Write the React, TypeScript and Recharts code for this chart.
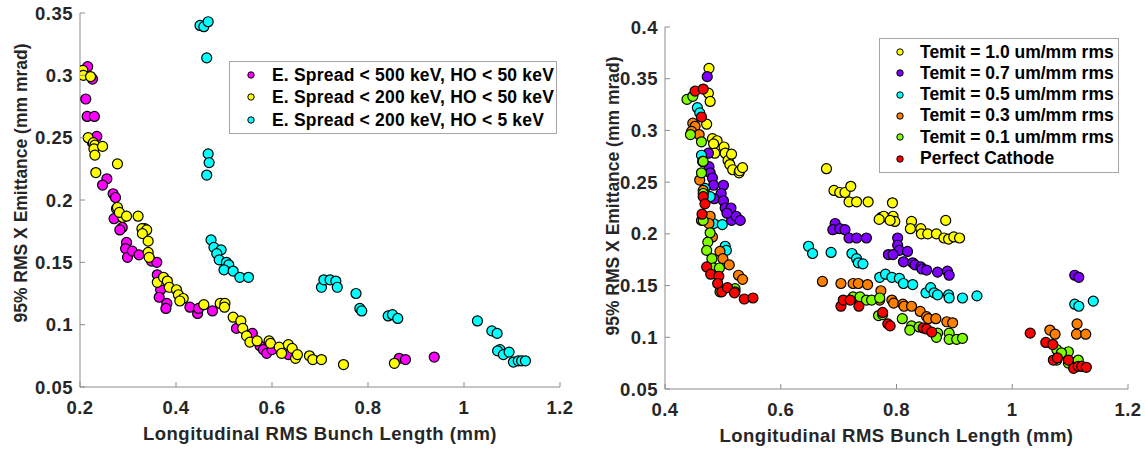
import React from 'react';
import { ScatterChart, Scatter, XAxis, YAxis, Legend, Label } from 'recharts';

// left panel: energy spread / higher-order cuts
const spread500ho50: [number, number][] = [
  [0.216, 0.307], [0.212, 0.281], [0.215, 0.267], [0.23, 0.267], [0.235, 0.251], [0.226, 0.246],
  [0.226, 0.297], [0.256, 0.217], [0.247, 0.212], [0.269, 0.205], [0.274, 0.202], [0.271, 0.185],
  [0.288, 0.178], [0.283, 0.176], [0.297, 0.166], [0.295, 0.161], [0.299, 0.154], [0.309, 0.159],
  [0.323, 0.156], [0.349, 0.151], [0.36, 0.15], [0.361, 0.14], [0.368, 0.128], [0.365, 0.122],
  [0.381, 0.117], [0.379, 0.113], [0.429, 0.114], [0.445, 0.109], [0.447, 0.113], [0.476, 0.111],
  [0.526, 0.097], [0.559, 0.093], [0.575, 0.083], [0.582, 0.08], [0.589, 0.077], [0.6, 0.08],
  [0.634, 0.076], [0.865, 0.073], [0.878, 0.072], [0.938, 0.074],
];
const spread200ho50: [number, number][] = [
  [0.206, 0.304], [0.207, 0.3], [0.222, 0.299], [0.217, 0.25], [0.228, 0.246], [0.231, 0.244],
  [0.229, 0.241], [0.231, 0.236], [0.247, 0.243], [0.233, 0.222], [0.278, 0.229], [0.276, 0.193],
  [0.289, 0.186], [0.321, 0.187], [0.335, 0.177], [0.278, 0.194], [0.282, 0.19], [0.297, 0.187],
  [0.329, 0.177], [0.339, 0.176], [0.33, 0.173], [0.342, 0.167], [0.342, 0.158], [0.344, 0.154],
  [0.361, 0.134], [0.374, 0.138], [0.382, 0.135], [0.386, 0.13], [0.401, 0.128], [0.405, 0.124],
  [0.415, 0.121], [0.408, 0.119], [0.458, 0.116], [0.492, 0.117], [0.502, 0.117], [0.501, 0.114],
  [0.519, 0.106], [0.535, 0.103], [0.539, 0.097], [0.547, 0.091], [0.554, 0.086], [0.569, 0.087],
  [0.594, 0.087], [0.597, 0.085], [0.615, 0.082], [0.62, 0.077], [0.634, 0.084], [0.642, 0.081],
  [0.649, 0.073], [0.653, 0.076], [0.678, 0.075], [0.685, 0.072], [0.703, 0.072], [0.749, 0.068],
  [0.855, 0.069],
];
const spread200ho5: [number, number][] = [
  [0.45, 0.34], [0.458, 0.339], [0.467, 0.343], [0.464, 0.314], [0.467, 0.237], [0.469, 0.23],
  [0.464, 0.22], [0.473, 0.168], [0.479, 0.162], [0.494, 0.16], [0.485, 0.157], [0.49, 0.152],
  [0.505, 0.15], [0.51, 0.148], [0.5, 0.144], [0.519, 0.143], [0.533, 0.138], [0.551, 0.138],
  [0.703, 0.13], [0.708, 0.136], [0.721, 0.136], [0.733, 0.135], [0.736, 0.13], [0.775, 0.125],
  [0.783, 0.113], [0.787, 0.111], [0.842, 0.107], [0.851, 0.108], [0.862, 0.105], [1.028, 0.103],
  [1.058, 0.095], [1.069, 0.093], [1.075, 0.08], [1.07, 0.079], [1.082, 0.076], [1.094, 0.078],
  [1.103, 0.07], [1.113, 0.071], [1.12, 0.071], [1.128, 0.071],
];

// right panel: thermal emittance
const temit10: [number, number][] = [
  [0.476, 0.36], [0.475, 0.336], [0.478, 0.328], [0.472, 0.306], [0.482, 0.292], [0.49, 0.29],
  [0.484, 0.287], [0.486, 0.278], [0.502, 0.284], [0.504, 0.278], [0.509, 0.271], [0.515, 0.277],
  [0.512, 0.267], [0.517, 0.262], [0.528, 0.259], [0.529, 0.261], [0.534, 0.264], [0.679, 0.263],
  [0.692, 0.242], [0.702, 0.24], [0.711, 0.24], [0.721, 0.246], [0.718, 0.231], [0.731, 0.231],
  [0.751, 0.231], [0.793, 0.23], [0.774, 0.216], [0.778, 0.217], [0.77, 0.214], [0.794, 0.217],
  [0.797, 0.212], [0.789, 0.213], [0.826, 0.212], [0.824, 0.205], [0.842, 0.205], [0.843, 0.2],
  [0.854, 0.2], [0.869, 0.2], [0.885, 0.213], [0.882, 0.196], [0.89, 0.195], [0.899, 0.197],
  [0.909, 0.196],
];
const temit07: [number, number][] = [
  [0.473, 0.352], [0.475, 0.278], [0.476, 0.265], [0.478, 0.259], [0.482, 0.254], [0.484, 0.247],
  [0.501, 0.247], [0.497, 0.239], [0.485, 0.234], [0.501, 0.232], [0.504, 0.225], [0.514, 0.225],
  [0.515, 0.213], [0.523, 0.217], [0.53, 0.213], [0.507, 0.22], [0.694, 0.21], [0.69, 0.204],
  [0.702, 0.205], [0.711, 0.204], [0.718, 0.196], [0.731, 0.196], [0.748, 0.196], [0.802, 0.196],
  [0.802, 0.189], [0.805, 0.184], [0.819, 0.183], [0.786, 0.18], [0.794, 0.18], [0.812, 0.173],
  [0.828, 0.172], [0.832, 0.17], [0.842, 0.168], [0.844, 0.166], [0.852, 0.165], [0.871, 0.163],
  [0.888, 0.164], [0.891, 0.16], [1.108, 0.16], [1.115, 0.158],
];
const temit05: [number, number][] = [
  [0.456, 0.322], [0.46, 0.317], [0.463, 0.276], [0.465, 0.27], [0.469, 0.244], [0.478, 0.236],
  [0.484, 0.21], [0.499, 0.209], [0.504, 0.188], [0.506, 0.184], [0.648, 0.188], [0.655, 0.181],
  [0.687, 0.182], [0.723, 0.181], [0.731, 0.176], [0.734, 0.172], [0.742, 0.171], [0.771, 0.158],
  [0.781, 0.161], [0.792, 0.158], [0.805, 0.157], [0.812, 0.152], [0.828, 0.151], [0.851, 0.143],
  [0.859, 0.148], [0.865, 0.143], [0.871, 0.141], [0.89, 0.141], [0.891, 0.138], [0.914, 0.138],
  [0.939, 0.14], [1.108, 0.132], [1.115, 0.13], [1.14, 0.135],
];
const temit03: [number, number][] = [
  [0.448, 0.307], [0.452, 0.304], [0.446, 0.299], [0.459, 0.296], [0.46, 0.252], [0.466, 0.242],
  [0.463, 0.213], [0.478, 0.217], [0.476, 0.21], [0.482, 0.197], [0.495, 0.183], [0.5, 0.176],
  [0.511, 0.17], [0.527, 0.16], [0.534, 0.156], [0.672, 0.154], [0.704, 0.152], [0.725, 0.152],
  [0.734, 0.152], [0.75, 0.151], [0.773, 0.145], [0.771, 0.136], [0.792, 0.136], [0.795, 0.133],
  [0.811, 0.132], [0.813, 0.13], [0.826, 0.13], [0.841, 0.125], [0.852, 0.12], [0.855, 0.118],
  [0.868, 0.118], [0.887, 0.115], [0.897, 0.114], [1.065, 0.107], [1.074, 0.103], [1.112, 0.113],
  [1.111, 0.103], [1.127, 0.103],
];
const temit01: [number, number][] = [
  [0.438, 0.33], [0.448, 0.333], [0.444, 0.296], [0.463, 0.289], [0.466, 0.27], [0.463, 0.259],
  [0.466, 0.239], [0.466, 0.213], [0.478, 0.201], [0.474, 0.192], [0.472, 0.184], [0.481, 0.176],
  [0.484, 0.167], [0.494, 0.167], [0.495, 0.144], [0.521, 0.147], [0.521, 0.144], [0.725, 0.139],
  [0.737, 0.139], [0.748, 0.136], [0.757, 0.136], [0.771, 0.138], [0.769, 0.121], [0.776, 0.122],
  [0.81, 0.118], [0.826, 0.111], [0.823, 0.107], [0.839, 0.11], [0.871, 0.104], [0.869, 0.1],
  [0.891, 0.104], [0.891, 0.098], [0.904, 0.098], [0.914, 0.099], [1.077, 0.088], [1.097, 0.086],
  [1.085, 0.085], [1.114, 0.078], [1.077, 0.078], [1.097, 0.075], [1.119, 0.072],
];
const perfectCathode: [number, number][] = [
  [0.452, 0.338], [0.466, 0.34], [0.463, 0.313], [0.466, 0.236], [0.469, 0.229], [0.464, 0.219],
  [0.472, 0.168], [0.479, 0.161], [0.493, 0.159], [0.491, 0.152], [0.498, 0.144], [0.508, 0.148],
  [0.52, 0.143], [0.537, 0.137], [0.552, 0.138], [0.704, 0.13], [0.708, 0.136], [0.72, 0.136],
  [0.735, 0.13], [0.776, 0.124], [0.785, 0.113], [0.789, 0.111], [0.846, 0.109], [0.852, 0.108],
  [0.861, 0.105], [1.031, 0.104], [1.058, 0.095], [1.07, 0.093], [1.071, 0.078], [1.078, 0.08],
  [1.097, 0.078], [1.106, 0.07], [1.114, 0.072], [1.12, 0.072], [1.128, 0.071],
];

const leftXTicks = [0.2, 0.4, 0.6, 0.8, 1, 1.2];
const leftYTicks = [0.05, 0.1, 0.15, 0.2, 0.25, 0.3, 0.35];
const rightXTicks = [0.4, 0.6, 0.8, 1, 1.2];
const rightYTicks = [0.05, 0.1, 0.15, 0.2, 0.25, 0.3, 0.35, 0.4];

const leftSeries = [
  { name: 'E. Spread < 500 keV, HO < 50 keV', color: '#ff00ff', data: spread500ho50 },
  { name: 'E. Spread < 200 keV, HO < 50 keV', color: '#ffff00', data: spread200ho50 },
  { name: 'E. Spread < 200 keV, HO < 5 keV', color: '#00ffff', data: spread200ho5 },
];
const rightSeries = [
  { name: 'Temit = 1.0 um/mm rms', color: '#ffff00', data: temit10 },
  { name: 'Temit = 0.7 um/mm rms', color: '#8000ff', data: temit07 },
  { name: 'Temit = 0.5 um/mm rms', color: '#00ffff', data: temit05 },
  { name: 'Temit = 0.3 um/mm rms', color: '#ff8000', data: temit03 },
  { name: 'Temit = 0.1 um/mm rms', color: '#80ff00', data: temit01 },
  { name: 'Perfect Cathode', color: '#ff0000', data: perfectCathode },
];

const FONT = '"Liberation Sans", Arial, Helvetica, sans-serif';
const TEXT = '#262626';
const AXIS = '#8c8c8c';
const AXIS_FONT = { fontFamily: FONT, fontWeight: 'bold', fontSize: 18.5, letterSpacing: 0.5, fill: TEXT } as const;
const YTITLE_FONT = { fontFamily: FONT, fontWeight: 'bold', fontSize: 17.5, fill: TEXT } as const;

const toPoints = (d: [number, number][]) => d.map(([x, y]) => ({ x, y }));

const XTick = ({ x, y, payload }: any) => (
  <g>
    <line x1={x} x2={x} y1={y} y2={y - 5} stroke={AXIS} />
    <text x={x} y={y + 20} textAnchor="middle" dominantBaseline="central" {...AXIS_FONT}>
      {String(payload.value)}
    </text>
  </g>
);

const YTick = ({ x, y, payload }: any) => (
  <g>
    <line x1={x} x2={x + 5} y1={y} y2={y} stroke={AXIS} />
    <text x={x - 7} y={y} textAnchor="end" dominantBaseline="central" {...AXIS_FONT}>
      {String(payload.value)}
    </text>
  </g>
);

const XTitle = ({ viewBox, value }: any) => (
  <text x={viewBox.x + viewBox.width / 2} y={viewBox.y + 46} textAnchor="middle"
    dominantBaseline="central" {...AXIS_FONT}>
    {value}
  </text>
);

const YTitle = ({ viewBox, value, cx, dy }: any) => {
  const cy = viewBox.y + viewBox.height / 2 + dy;
  return (
    <text x={cx} y={cy} transform={`rotate(-90 ${cx} ${cy})`} textAnchor="middle"
      dominantBaseline="central" {...YTITLE_FONT}>
      {value}
    </text>
  );
};

const Dot = (color: string) => (props: any) => (
  <circle cx={props.cx} cy={props.cy} r={5} fill={color} stroke="#000" strokeWidth={1.2} />
);

const LegendBox = ({ items, width, rowHeight, padTop, markerX, textX, spacing }: any) => (
  <div style={{ width, border: '1px solid #a6a6a6', background: '#fff', paddingTop: padTop,
    paddingBottom: padTop, boxSizing: 'border-box' }}>
    {items.map((s: any) => (
      <div key={s.name} style={{ position: 'relative', height: rowHeight, fontFamily: FONT,
        fontWeight: 'bold', fontSize: 17.5, letterSpacing: spacing, color: '#000', lineHeight: `${rowHeight}px` }}>
        <svg width={10} height={10} style={{ position: 'absolute', left: markerX - 5, top: rowHeight / 2 - 5 }}>
          <circle cx={5} cy={5} r={3.2} fill={s.color} stroke="#000" strokeWidth={1} />
        </svg>
        <span style={{ position: 'absolute', left: textX, whiteSpace: 'nowrap' }}>{s.name}</span>
      </div>
    ))}
  </div>
);

export default function App() {
  return (
    <div style={{ position: 'absolute', left: 0, top: 0, width: 1145, height: 449, background: '#fff' }}>
      <div style={{ position: 'absolute', left: 0, top: 0 }}>
        <ScatterChart width={590} height={449} margin={{ top: 13, right: 30, bottom: 0, left: 0 }}>
          <XAxis type="number" dataKey="x" domain={[0.2, 1.2]} ticks={leftXTicks} allowDataOverflow
            height={62} tickSize={0} tickMargin={0} tick={<XTick />} stroke={AXIS}>
            <Label content={<XTitle value="Longitudinal RMS Bunch Length (mm)" />} />
          </XAxis>
          <YAxis type="number" dataKey="y" domain={[0.05, 0.35]} ticks={leftYTicks} allowDataOverflow
            width={80} tickSize={0} tickMargin={0} tick={<YTick />} stroke={AXIS}>
            <Label content={<YTitle value="95% RMS X Emittance (mm mrad)" cx={20.5} dy={-17} />} />
          </YAxis>
          <Legend layout="vertical" align="center" verticalAlign="middle"
            wrapperStyle={{ left: 229, top: 61, width: 328 }}
            content={() => (
              <LegendBox items={leftSeries} width={328} rowHeight={22.5} padTop={1.5} markerX={21} textX={42} spacing={0.2} />
            )} />
          {leftSeries.map((s) => (
            <Scatter key={s.name} name={s.name} data={toPoints(s.data)} fill={s.color}
              shape={Dot(s.color)} isAnimationActive={false} />
          ))}
        </ScatterChart>
      </div>
      <div style={{ position: 'absolute', left: 572, top: 0 }}>
        <ScatterChart width={573} height={449} margin={{ top: 27, right: 17, bottom: 0, left: 0 }}>
          <XAxis type="number" dataKey="x" domain={[0.4, 1.2]} ticks={rightXTicks} allowDataOverflow
            height={60} tickSize={0} tickMargin={0} tick={<XTick />} stroke={AXIS}>
            <Label content={<XTitle value="Longitudinal RMS Bunch Length (mm)" />} />
          </XAxis>
          <YAxis type="number" dataKey="y" domain={[0.05, 0.4]} ticks={rightYTicks} allowDataOverflow
            width={93} tickSize={0} tickMargin={0} tick={<YTick />} stroke={AXIS}>
            <Label content={<YTitle value="95% RMS X Emittance (mm mrad)" cx={41} dy={-12} />} />
          </YAxis>
          <Legend layout="vertical" align="center" verticalAlign="middle"
            wrapperStyle={{ left: 307, top: 38, width: 240 }}
            content={() => (
              <LegendBox items={rightSeries} width={240} rowHeight={21.3} padTop={2.5} markerX={20} textX={40} spacing={0} />
            )} />
          {rightSeries.map((s) => (
            <Scatter key={s.name} name={s.name} data={toPoints(s.data)} fill={s.color}
              shape={Dot(s.color)} isAnimationActive={false} />
          ))}
        </ScatterChart>
      </div>
    </div>
  );
}
